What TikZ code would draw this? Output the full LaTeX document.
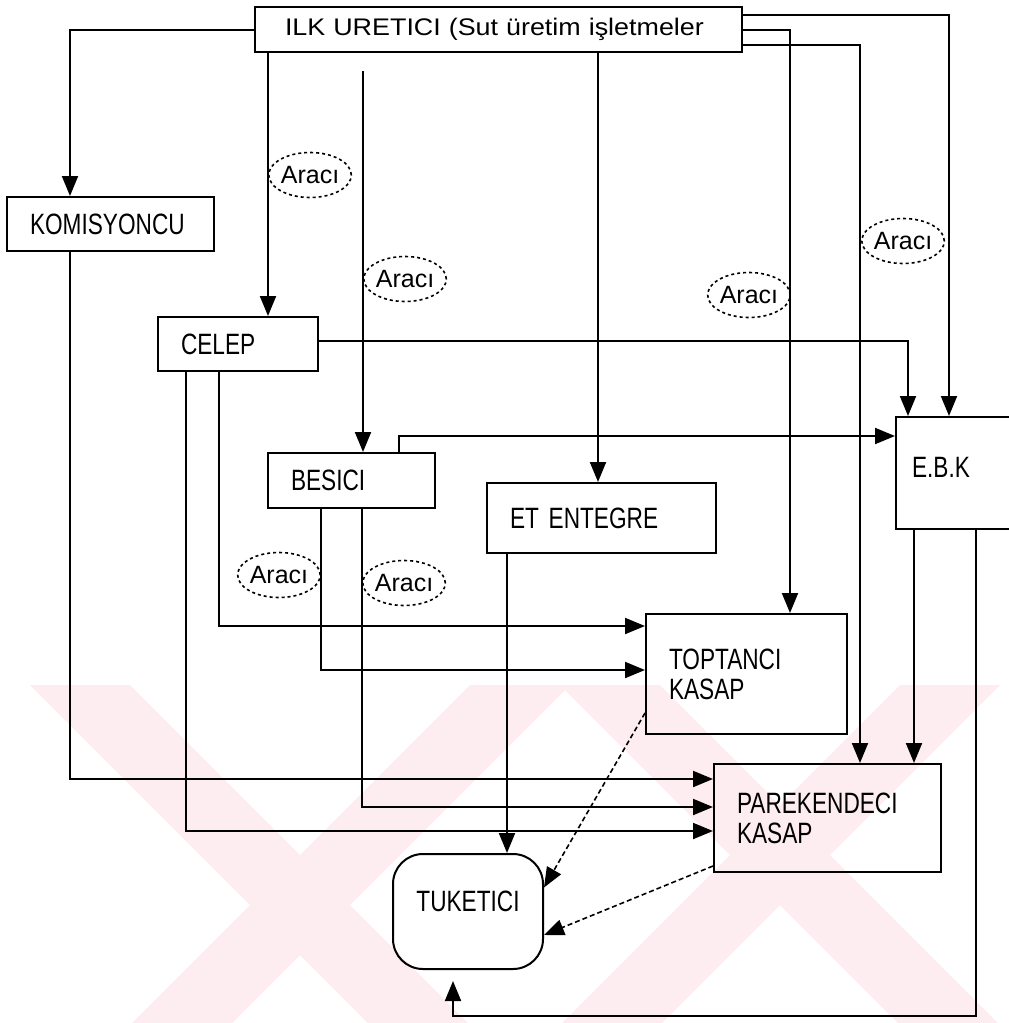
\documentclass[tikz,border=0pt]{standalone}
\usepackage{fontspec}
\setmainfont{Liberation Sans}
\newfontfamily\boxfont{Liberation Sans}[FakeStretch=0.77]
\newfontfamily\topfont{Liberation Sans}[FakeStretch=1.12]
\usepackage{tikz}
\usetikzlibrary{arrows.meta, positioning, calc, shapes.geometric}
\definecolor{markpink}{RGB}{253,236,240}
\tikzset{
  box/.style={draw, rectangle, line width=2pt, inner xsep=23pt, inner ysep=0pt, align=left,
    font=\boxfont\fontsize{29.4}{30}\selectfont},
  araci/.style={draw, ellipse, dashed, line width=1.6pt, inner sep=0pt,
    minimum width=80pt, minimum height=45pt, font=\fontsize{25}{26}\selectfont},
  flow/.style={->, line width=2pt},
  dflow/.style={->, line width=1.6pt, dash pattern=on 5pt off 3pt},
}

\begin{document}
\begin{tikzpicture}[x=1pt, y=-1pt, >={Triangle[length=20pt,width=16pt]}]
    \useasboundingbox (0,0) rectangle (1009,1023);
    \clip (0,0) rectangle (1009,1023);

    % watermark
    \fill[markpink] (30,685) -- (130,685) -- (468,1023) -- (368,1023) -- cycle;
    \fill[markpink] (470,685) -- (570,685) -- (232,1023) -- (132,1023) -- cycle;
    \fill[markpink] (560,685) -- (660,685) -- (998,1023) -- (898,1023) -- cycle;
    \fill[markpink] (900,685) -- (1000,685) -- (662,1023) -- (562,1023) -- cycle;

    % boxes
    \node[box, inner xsep=30pt, minimum width=487pt, minimum height=45pt, text width=427pt,
      font=\topfont\fontsize{24}{26}\selectfont] (uretici) at (498.5,29.5) {ILK URETICI (Sut üretim işletmeler};
    \node[box, minimum width=207pt, minimum height=54pt, text width=161pt] (komis) at (110.5,224) {KOMISYONCU};
    \node[box, minimum width=160pt, minimum height=54pt, text width=114pt] (celep) at (238,344) {CELEP};
    \node[box, minimum width=167pt, minimum height=55pt, text width=121pt] (besici) at (351.5,480.5) {BESICI};
    \node[box, minimum width=229pt, minimum height=70pt, text width=183pt] (etent) at (601.5,518) {ET ENTEGRE};
    \node[box, inner xsep=16pt, minimum width=134pt, minimum height=112pt, text width=102pt] (ebk) at (963,473) {\raisebox{12pt}{E.B.K}};
    \node[box, minimum width=201pt, minimum height=120pt, text width=155pt] (toptanci) at (746.5,674) {TOPTANCI\\KASAP};
    \node[box, minimum width=227pt, minimum height=108pt, text width=181pt] (parek) at (827.5,818) {PAREKENDECI\\KASAP};
    \node[box, rounded corners=30pt, minimum width=150pt, minimum height=115pt, text width=104pt,
      align=center] (tuketici) at (468,911.5) {\raisebox{20pt}{TUKETICI}};

    % from ilk uretici
    \draw[flow] (uretici.west) -| ([xshift=-40.5pt]komis.north);
    \draw[flow] ([xshift=14pt]uretici.south west) coordinate (u1) -- (u1 |- celep.north);
    \draw[flow] ([xshift=109pt,yshift=-18pt]uretici.south west) coordinate (u2) -- (u2 |- besici.north);
    \draw[flow] ([xshift=344pt]uretici.south west) coordinate (u3) -- (u3 |- etent.north);
    \draw[flow] ([yshift=14.5pt]uretici.east) -| ([xshift=54pt]ebk.north west);
    \draw[flow] (uretici.east) -| ([xshift=145pt]toptanci.north west);
    \draw[flow] ([yshift=-15.5pt]uretici.east) -| ([xshift=147pt]parek.north west);

    % araci
    \node[araci, anchor=west] (ar1) at (u1 |- 0,175) {Aracı};
    \node[araci, anchor=west] (ar2) at (u2 |- 0,279) {Aracı};
    \node[araci, anchor=east] (ar3) at (791,295) {Aracı};
    \node[araci, anchor=west] (ar4) at (861,241) {Aracı};

    % komisyoncu, celep, besici
    \draw[flow] ([xshift=64pt]komis.south west) |- ([yshift=-16pt]parek.north west);
    \draw[flow] ([yshift=3pt]celep.east) -| ([xshift=13pt]ebk.north west);
    \draw[flow] ([xshift=29pt]celep.south west) |- ([yshift=-68pt]parek.north west);
    \draw[flow] ([xshift=62pt]celep.south west) |- ([yshift=-13pt]toptanci.north west);
    \draw[flow] ([xshift=132pt]besici.north west) |- ([yshift=-20pt]ebk.north west);
    \draw[flow] ([xshift=54pt]besici.south west) coordinate (b1) |- ([yshift=-57pt]toptanci.north west);
    \draw[flow] ([xshift=95pt]besici.south west) coordinate (b2) |- ([yshift=-44pt]parek.north west);
    \node[araci, anchor=east] (ar5) at (b1 |- 0,575) {Aracı};
    \node[araci, anchor=west] (ar6) at (b2 |- 0,583) {Aracı};

    % et entegre, ebk
    \draw[flow] ([xshift=21pt]etent.south west) coordinate (e1) -- (e1 |- tuketici.north);
    \draw[flow] ([xshift=19pt]ebk.south west) coordinate (k1) -- (k1 |- parek.north);
    \draw[flow] ([xshift=81pt]ebk.south west) |- ([shift={(-15pt,-46pt)}]tuketici.south)
      -- ([shift={(-15pt,-11pt)}]tuketici.south);

    % to tuketici
    \draw[dflow] ([yshift=22pt]toptanci.south west) -- ([yshift=24pt]tuketici.east);
    \draw[dflow] ([yshift=7pt]parek.south west) -- ([yshift=-23.5pt]tuketici.east);
\end{tikzpicture}
\end{document}
